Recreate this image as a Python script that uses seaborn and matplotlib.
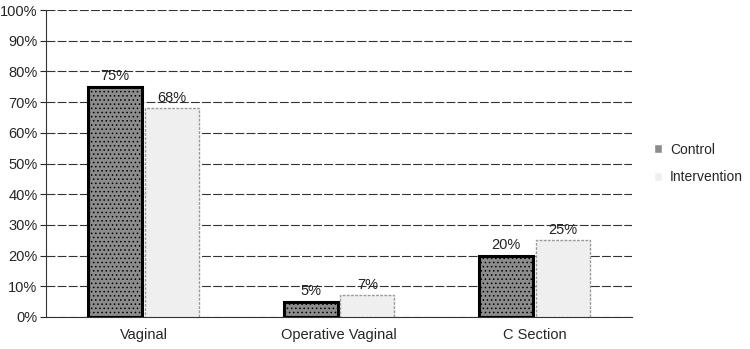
import pandas as pd
import matplotlib
matplotlib.use('Agg')
import matplotlib.pyplot as plt
import seaborn as sns

# Data
categories = ['Vaginal', 'Operative Vaginal', 'C Section']
control = [75, 5, 20]
intervention = [68, 7, 25]
groups = ['Control', 'Intervention']

df = pd.DataFrame({
    'category': categories * 2,
    'group': ['Control'] * 3 + ['Intervention'] * 3,
    'value': control + intervention,
})

sns.set_style('white')
plt.rcParams['font.family'] = ['Liberation Sans', 'DejaVu Sans']
plt.rcParams['hatch.linewidth'] = 0.6

fig = plt.figure(figsize=(7.5, 3.49), dpi=100)
ax = fig.add_axes([0.061, 0.092, 0.782, 0.879])

ax = sns.barplot(data=df, x='category', y='value', hue='group',
                 palette=['#8c8c8c', '#efefef'], width=0.58, gap=0.05,
                 ax=ax, zorder=3)

# style bars: control thick black edge, intervention light dotted edge
for bar, (_, row) in zip(ax.patches, df.iterrows()):
    if row['group'] == 'Control':
        bar.set_edgecolor('black')
        bar.set_linewidth(2.2)
        bar.set_hatch('....')
    else:
        bar.set_edgecolor('#9a9a9a')
        bar.set_linewidth(1.0)
        bar.set_linestyle((0, (2, 1)))

for bar, (_, row) in zip(ax.patches, df.iterrows()):
    ax.text(bar.get_x() + bar.get_width() / 2, bar.get_height() + 1.2,
            f"{row['value']}%", ha='center', va='bottom', fontsize=10.5,
            color='#222222', zorder=4)

ax.set_ylim(0, 100)
ax.set_yticks(range(0, 101, 10))
ax.set_yticklabels([f'{v}%' for v in range(0, 101, 10)], fontsize=10.5)
ax.tick_params(axis='x', labelsize=10.5, length=0, pad=8)
ax.tick_params(axis='y', length=4, left=True, pad=2)
ax.yaxis.grid(True, color='#333333', linestyle=(0, (8, 2)), linewidth=0.8, zorder=0)
ax.set_axisbelow(True)
ax.set_xlabel('')
ax.set_ylabel('')
ax.set_xlim(-0.5, 2.5)
for s in ['top', 'right']:
    ax.spines[s].set_visible(False)
ax.spines['left'].set_color('#333333')
ax.spines['bottom'].set_color('#333333')

handles, labels = ax.get_legend_handles_labels()
ax.legend(handles, labels, loc='center left', bbox_to_anchor=(1.015, 0.5),
          frameon=False, fontsize=10, handlelength=0.6, handleheight=0.6,
          labelspacing=1.0, handletextpad=0.6)

fig.savefig('out.png', dpi=100)
